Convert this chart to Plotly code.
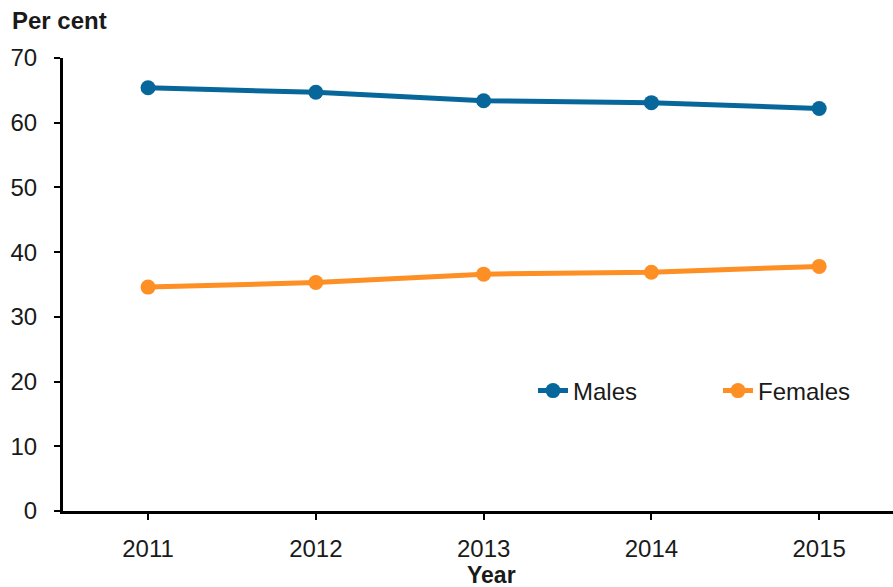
import plotly.graph_objects as go

years = [2011, 2012, 2013, 2014, 2015]
males = [65.4, 64.7, 63.4, 63.1, 62.2]
females = [34.6, 35.3, 36.6, 36.9, 37.8]
y_ticks = [0, 10, 20, 30, 40, 50, 60, 70]

BLUE = "#07679B"
ORANGE = "#FD8F24"
FONT = "Liberation Sans, Arial, sans-serif"

L, T, B = 63, 58, 76
PW, PH = 893 - L, 587 - T - B

fig = go.Figure()
fig.add_trace(go.Scatter(x=years, y=males, name="Males", mode="lines+markers",
                         line=dict(color=BLUE, width=5),
                         marker=dict(color=BLUE, size=15), legend="legend"))
fig.add_trace(go.Scatter(x=years, y=females, name="Females", mode="lines+markers",
                         line=dict(color=ORANGE, width=5),
                         marker=dict(color=ORANGE, size=15), legend="legend2"))

leg_common = dict(yanchor="middle", xanchor="left", bgcolor="rgba(0,0,0,0)",
                  font=dict(size=24, color="#1a1a1a"), borderwidth=0)
fig.update_layout(
    width=893, height=587,
    margin=dict(l=L, r=0, t=T, b=B, autoexpand=False),
    paper_bgcolor="white", plot_bgcolor="white",
    font=dict(family=FONT, size=24, color="#1a1a1a"),
    showlegend=True,
    legend=dict(x=(533 - L) / PW, y=(511 - 391) / PH, **leg_common),
    legend2=dict(x=(718 - L) / PW, y=(511 - 391) / PH, **leg_common),
    xaxis=dict(range=[2010.493, 2015.44], tickvals=years, ticktext=[str(y) for y in years],
               showgrid=False, zeroline=False, showline=True, linecolor="black", linewidth=3,
               ticks="outside", ticklen=6, tickwidth=2, tickcolor="black",
               ticklabelstandoff=8, automargin=False),
    yaxis=dict(range=[0, 70], tickvals=y_ticks, showgrid=False, zeroline=False,
               showline=True, linecolor="black", linewidth=3,
               ticks="outside", ticklen=6, tickwidth=2, tickcolor="black",
               ticklabelstandoff=12, automargin=False),
    annotations=[
        dict(text="<b>Per cent</b>", xref="paper", yref="paper", x=(10 - L) / PW, y=1 + (T - 20) / PH,
             xanchor="left", yanchor="middle", showarrow=False, font=dict(size=24)),
        dict(text="<b>Year</b>", xref="paper", yref="paper", x=(492 - L) / PW, y=-(575 - 511) / PH,
             xanchor="center", yanchor="middle", showarrow=False, font=dict(size=23)),
    ],
)

fig.write_html("out.html", config={"displayModeBar": False},
               post_script="document.body.style.margin='0px';")
